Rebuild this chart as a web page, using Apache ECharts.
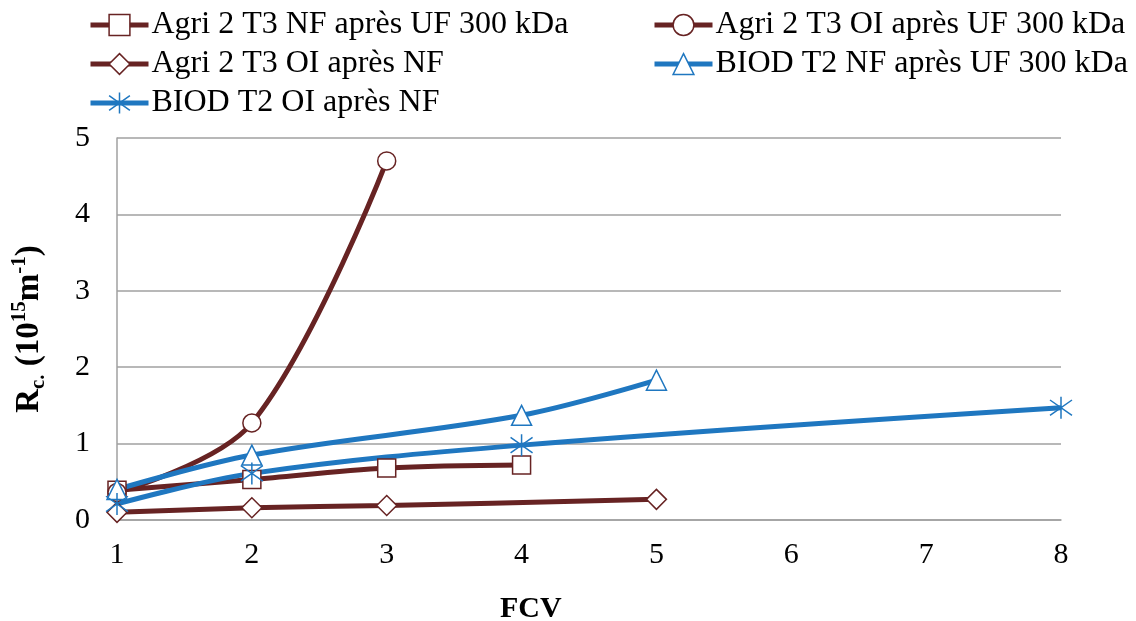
<!DOCTYPE html>
<html>
<head>
<meta charset="utf-8">
<script src="https://cdn.jsdelivr.net/npm/echarts@6/dist/echarts.min.js"></script>
<style>
  html, body { margin: 0; padding: 0; background: #fff; }
  #chart { width: 1136px; height: 621px; }
</style>
</head>
<body>
<div id="chart"></div>
<script>
// Cake resistance Rc (10^15 m^-1) versus volume concentration factor (FCV)
const xTicks = [1, 2, 3, 4, 5, 6, 7, 8];
const yTicks = [0, 1, 2, 3, 4, 5];

const names = [
  'Agri 2 T3 NF après UF 300 kDa',
  'Agri 2 T3 OI après UF 300 kDa',
  'Agri 2 T3 OI après NF',
  'BIOD T2 NF après UF 300 kDa',
  'BIOD T2 OI après NF'
];

const agriNfUfX = [1, 2, 3, 4];
const agriNfUfY = [0.39, 0.53, 0.68, 0.72];

const agriOiUfX = [1, 2, 3];
const agriOiUfY = [0.36, 1.27, 4.70];

const agriOiNfX = [1, 2, 3, 5];
const agriOiNfY = [0.10, 0.16, 0.19, 0.27];

const biodNfUfX = [1, 2, 4, 5];
const biodNfUfY = [0.40, 0.85, 1.37, 1.83];

const biodOiNfX = [1, 2, 4, 8];
const biodOiNfY = [0.21, 0.61, 0.98, 1.47];

const BROWN = '#672323';
const BLUE = '#1F77C0';
const GRID = '#A0A0A0';
const STAR = 'path://M10,0L10,20M3,3L17,17M17,3L3,17';

function pairs(xs, ys) {
  return xs.map((x, i) => [x, ys[i]]);
}

function lineSeries(name, xs, ys, color, symbol, size) {
  return {
    name: name,
    type: 'line',
    data: pairs(xs, ys),
    smooth: 0.35,
    symbol: symbol,
    symbolSize: size,
    showAllSymbol: true,
    lineStyle: { color: color, width: 5 },
    itemStyle: { color: '#fff', borderColor: color, borderWidth: 1.5 },
    emphasis: { disabled: true },
    animation: false
  };
}

const series = [
  lineSeries(names[0], agriNfUfX, agriNfUfY, BROWN, 'rect', 18),
  lineSeries(names[1], agriOiUfX, agriOiUfY, BROWN, 'circle', 18),
  lineSeries(names[2], agriOiNfX, agriOiNfY, BROWN, 'diamond', 20),
  lineSeries(names[3], biodNfUfX, biodNfUfY, BLUE, 'triangle', 20),
  lineSeries(names[4], biodOiNfX, biodOiNfY, BLUE, STAR, 22)
];

const colorOf = [BROWN, BROWN, BROWN, BLUE, BLUE];
function legendItem(i) {
  return {
    name: names[i],
    itemStyle: { color: '#fff', borderColor: colorOf[i], borderWidth: 1.5 },
    lineStyle: { color: colorOf[i], width: 5 }
  };
}

const legendCommon = {
  orient: 'vertical',
  itemWidth: 58,
  itemHeight: 26,
  itemGap: 7,
  selectedMode: false,
  padding: 0,
  textStyle: { fontFamily: 'Liberation Serif', fontSize: 32, color: '#000', lineHeight: 32, padding: [0, 0, 0, -2] }
};

const chart = echarts.init(document.getElementById('chart'), null, { renderer: 'canvas' });
chart.setOption({
  animation: false,
  backgroundColor: '#fff',
  textStyle: { fontFamily: 'Liberation Serif' },
  legend: [
    Object.assign({ left: 88, top: 9, data: [0, 2, 4].map(legendItem) }, legendCommon),
    Object.assign({ left: 652, top: 9, data: [1, 3].map(legendItem) }, legendCommon)
  ],
  grid: { left: 117, right: 75, top: 138, bottom: 101, containLabel: false },
  xAxis: {
    type: 'value',
    min: xTicks[0],
    max: xTicks[xTicks.length - 1],
    interval: 1,
    axisLine: { show: true, lineStyle: { color: GRID, width: 1.5 } },
    axisTick: { show: false },
    splitLine: { show: false },
    axisLabel: { color: '#000', fontSize: 30, margin: 20, fontFamily: 'Liberation Serif' }
  },
  yAxis: {
    type: 'value',
    min: yTicks[0],
    max: yTicks[yTicks.length - 1],
    interval: 1,
    axisLine: { show: true, lineStyle: { color: GRID, width: 1.5 } },
    axisTick: { show: false },
    splitLine: { show: true, lineStyle: { color: GRID, width: 1.5 } },
    axisLabel: { color: '#000', fontSize: 30, margin: 27, fontFamily: 'Liberation Serif' },
    name: '{b|R}{sub|c.}{b| (10}{sup|15}{b|m}{sup|-1}{b|)}',
    nameLocation: 'middle',
    nameRotate: 90,
    nameGap: 68,
    nameTextStyle: {
      rich: {
        b: { fontFamily: 'Liberation Serif', fontSize: 33, fontWeight: 'bold', color: '#000', lineHeight: 40 },
        sub: { fontFamily: 'Liberation Serif', fontSize: 21, fontWeight: 'bold', color: '#000', lineHeight: 40, verticalAlign: 'bottom' },
        sup: { fontFamily: 'Liberation Serif', fontSize: 21, fontWeight: 'bold', color: '#000', lineHeight: 40, verticalAlign: 'top' }
      }
    }
  },
  graphic: [{
    type: 'text',
    left: 500,
    top: 594,
    style: { text: 'FCV', font: 'bold 30px "Liberation Serif"', fill: '#000' }
  }],
  series: series
});
</script>
</body>
</html>
